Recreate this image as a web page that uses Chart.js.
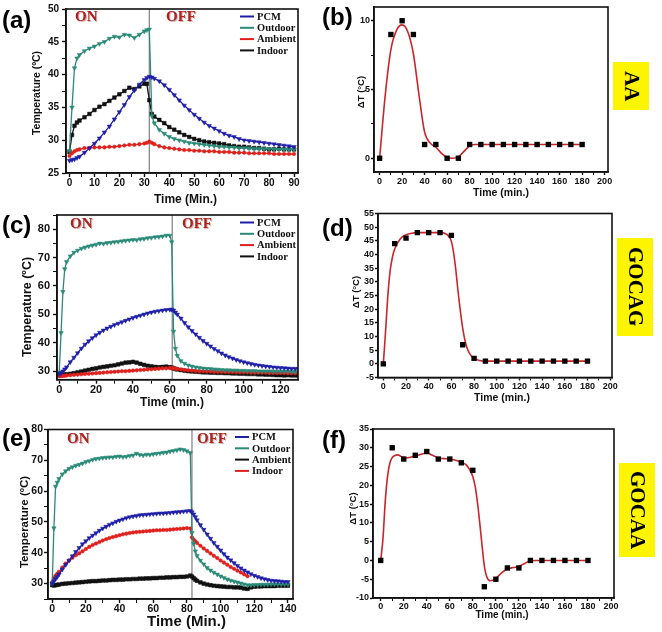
<!DOCTYPE html>
<html>
<head>
<meta charset="utf-8">
<script src="https://cdn.jsdelivr.net/npm/chart.js@4.4.1/dist/chart.umd.min.js"></script>
<style>
  body { margin: 0; background: #fff; }
  #wrap { position: relative; width: 662px; height: 632px; overflow: hidden; background: #fff; }
  canvas { position: absolute; }
  .tag { position: absolute; font: bold 24px "Liberation Sans", Arial, sans-serif; line-height: 1; color: #000; }
  .onoff { position: absolute; font: bold 15px "Liberation Serif", "Times New Roman", serif; line-height: 1; color: #ad211d; text-shadow: 1px 1px 0 #d8b0b0; }
  .sample { position: absolute; background: #fdf500; display: flex; align-items: center; justify-content: center; }
  .sample span { writing-mode: vertical-rl; font: bold 21px "Liberation Serif", "Times New Roman", serif; color: #000; line-height: 1; }
</style>
</head>
<body>
<div id="wrap">
  <canvas id="cA" width="310" height="210" style="left:0;top:0"></canvas>
  <canvas id="cB" width="285" height="210" style="left:335px;top:0"></canvas>
  <canvas id="cC" width="310" height="212" style="left:0;top:205px"></canvas>
  <canvas id="cD" width="285" height="210" style="left:335px;top:205px"></canvas>
  <canvas id="cE" width="305" height="212" style="left:0;top:420px"></canvas>
  <canvas id="cF" width="285" height="212" style="left:335px;top:420px"></canvas>

  <div class="tag" style="left:2px;top:8px">(a)</div>
  <div class="tag" style="left:322px;top:5px">(b)</div>
  <div class="tag" style="left:2px;top:213px">(c)</div>
  <div class="tag" style="left:322px;top:216px">(d)</div>
  <div class="tag" style="left:2px;top:426px">(e)</div>
  <div class="tag" style="left:322px;top:428px">(f)</div>

  <div class="onoff" style="left:75px;top:9px">ON</div>
  <div class="onoff" style="left:166px;top:9px">OFF</div>
  <div class="onoff" style="left:70px;top:216px">ON</div>
  <div class="onoff" style="left:182px;top:216px">OFF</div>
  <div class="onoff" style="left:67px;top:431px">ON</div>
  <div class="onoff" style="left:197px;top:431px">OFF</div>

  <div class="sample" style="left:613px;top:62px;width:36px;height:48px"><span>AA</span></div>
  <div class="sample" style="left:617px;top:238px;width:36px;height:98px"><span>GOCAG</span></div>
  <div class="sample" style="left:619px;top:463px;width:36px;height:94px"><span>GOCAA</span></div>
</div>

<script>
// ---------- panel (a) : AA, temperature vs time ----------
const timeA = [0,1,2,3,4,6,8,10,12,14,16,18,20,22,24,26,28,30,31,32,33,34,36,38,40,42,44,46,48,50,52,54,56,58,60,62,64,66,68,70,72,74,76,78,80,82,84,86,88,90];
const pcmA = [26.9,27.0,27.1,27.3,27.5,28.1,28.8,29.5,30.3,31.2,32.1,33.2,34.3,35.4,36.6,37.6,38.5,39.2,39.5,39.7,39.6,39.4,39.0,38.4,37.7,36.9,36.1,35.3,34.6,33.9,33.3,32.7,32.2,31.8,31.4,31.0,30.7,30.5,30.2,30.0,29.9,29.8,29.7,29.6,29.5,29.4,29.3,29.2,29.1,29.0];
const outdoorA = [28.4,35.0,41.0,42.5,43.0,43.6,44.0,44.3,44.7,45.0,45.5,45.8,45.7,46.1,46.0,45.6,46.1,46.6,46.8,46.9,33.7,32.6,31.6,31.0,30.5,30.2,30.0,29.8,29.6,29.5,29.4,29.3,29.2,29.1,29.0,29.0,28.9,28.9,28.8,28.8,28.8,28.7,28.7,28.7,28.7,28.6,28.6,28.6,28.6,28.6];
const ambientA = [27.6,28.0,28.3,28.5,28.6,28.8,28.8,28.9,28.9,28.9,29.0,29.0,29.1,29.2,29.3,29.3,29.4,29.5,29.6,29.8,29.6,29.4,29.1,28.9,28.8,28.7,28.6,28.5,28.5,28.4,28.4,28.3,28.3,28.3,28.2,28.2,28.2,28.1,28.1,28.1,28.0,28.0,28.0,28.0,28.0,27.9,27.9,27.9,27.9,27.9];
const indoorA = [28.2,30.8,32.2,32.7,33.0,33.5,34.0,34.6,35.1,35.5,36.0,36.5,37.0,37.5,38.0,37.8,38.2,38.6,38.6,36.1,34.0,33.6,33.1,32.6,32.0,31.6,31.2,30.8,30.5,30.2,30.0,29.8,29.7,29.6,29.5,29.4,29.2,29.1,29.0,29.0,28.9,28.8,28.8,28.7,28.6,28.6,28.7,28.6,28.6,28.6];
const switchA = 32;

// ---------- panel (c) : GOCAG ----------
const timeC = [0,1,2,3,4,6,8,10,12,14,16,18,20,22,24,26,28,30,32,34,36,38,40,42,44,46,48,50,52,54,56,58,60,61,62,63,64,66,68,70,72,74,76,78,80,82,84,86,88,90,92,94,96,98,100,102,104,106,108,110,112,114,116,118,120,122,124,126,128,130];
const pcmC = [29.0,29.4,30.0,30.7,31.4,33.2,34.8,36.4,38.0,39.4,40.6,41.7,42.7,43.6,44.4,45.1,45.7,46.3,46.8,47.3,47.8,48.3,48.8,49.2,49.6,50.0,50.4,50.7,51.0,51.2,51.4,51.6,51.7,51.7,51.4,50.7,50.0,48.6,47.0,45.5,44.2,43.0,41.8,40.7,39.7,38.8,37.9,37.1,36.3,35.6,35.0,34.5,34.0,33.6,33.2,32.9,32.6,32.3,32.1,31.9,31.7,31.6,31.4,31.3,31.2,31.1,31.0,30.9,30.9,30.8];
const outdoorC = [29.5,43.5,58.0,66.0,68.5,70.5,71.8,72.5,73.2,73.6,74.0,74.3,74.6,75.0,74.9,75.2,75.3,75.5,75.6,75.8,76.0,76.1,76.3,76.2,76.5,76.6,76.9,77.0,77.2,77.3,77.5,77.8,77.8,75.5,44.0,38.0,35.5,33.6,32.7,32.1,31.7,31.4,31.2,31.0,30.9,30.8,30.7,30.6,30.5,30.4,30.4,30.3,30.3,30.2,30.2,30.1,30.1,30.1,30.0,30.0,30.0,30.0,29.9,29.9,29.9,29.9,29.9,29.8,29.8,29.8];
const ambientC = [28.3,28.3,28.4,28.4,28.5,28.6,28.7,28.8,28.9,29.0,29.1,29.2,29.3,29.4,29.5,29.6,29.7,29.8,29.9,30.0,30.0,30.1,30.2,30.3,30.4,30.5,30.6,30.7,30.8,30.9,31.0,31.0,31.1,31.1,31.0,30.9,30.8,30.6,30.4,30.3,30.2,30.1,30.0,30.0,29.9,29.9,29.8,29.8,29.8,29.7,29.7,29.7,29.6,29.6,29.6,29.6,29.5,29.5,29.5,29.5,29.5,29.4,29.4,29.4,29.4,29.4,29.3,29.3,29.3,29.3];
const indoorC = [28.5,28.6,28.7,28.8,28.9,29.1,29.3,29.6,29.9,30.2,30.5,30.8,31.0,31.3,31.5,31.7,31.9,32.1,32.4,32.7,33.0,33.1,33.3,33.0,32.6,32.2,31.9,31.7,31.5,31.4,31.5,31.6,31.4,31.3,31.0,30.8,30.6,30.4,30.2,30.0,29.9,29.8,29.7,29.6,29.6,29.5,29.5,29.4,29.4,29.3,29.3,29.2,29.2,29.1,29.1,29.0,29.0,29.0,28.9,28.9,28.8,28.8,28.7,28.6,28.6,28.5,28.6,28.5,28.5,28.5];
const switchC = 61.3;

// ---------- panel (e) : GOCAA ----------
const timeE = [0,1,2,3,4,6,8,10,12,14,16,18,20,22,24,26,28,30,32,34,36,38,40,42,44,46,48,50,52,54,56,58,60,62,64,66,68,70,72,74,76,78,80,82,83,84,85,86,88,90,92,94,96,98,100,102,104,106,108,110,112,114,116,118,120,122,124,126,128,130,132,134,136,138,140];
const pcmE = [30.0,30.8,31.5,32.2,33.0,34.6,36.1,37.5,38.9,40.3,41.6,42.8,43.8,44.8,45.6,46.4,47.2,47.9,48.5,49.1,49.6,50.1,50.5,50.9,51.3,51.6,51.8,52.0,52.2,52.3,52.4,52.5,52.6,52.7,52.8,52.8,52.9,53.0,53.1,53.2,53.3,53.4,53.5,53.6,53.2,52.5,51.6,50.6,49.0,47.5,46.0,44.6,43.2,42.0,40.8,39.6,38.5,37.6,36.7,35.8,35.0,34.3,33.7,33.1,32.6,32.2,31.8,31.5,31.2,31.0,30.9,30.8,30.7,30.6,30.6];
const outdoorE = [30.0,48.0,61.5,62.8,64.0,65.5,66.5,67.3,67.8,68.3,68.6,69.0,69.5,69.8,70.2,70.5,70.6,70.8,70.9,71.0,71.0,71.2,71.3,71.1,71.2,71.5,71.6,72.2,71.8,71.6,71.9,71.8,72.0,72.2,72.3,72.5,72.6,72.9,73.1,73.3,73.6,73.4,73.0,72.4,46.5,43.0,40.5,39.0,37.5,36.3,35.1,34.3,33.6,33.0,32.4,31.9,31.4,31.0,30.7,30.4,30.1,29.8,29.5,29.5,29.6,29.6,29.7,29.7,29.7,29.8,29.8,29.8,29.8,29.8,29.8];
const ambientE = [29.5,29.4,29.5,29.6,29.7,29.9,30.0,30.1,30.2,30.3,30.4,30.5,30.6,30.7,30.8,30.8,30.9,31.0,31.0,31.1,31.2,31.2,31.3,31.3,31.4,31.4,31.5,31.5,31.6,31.6,31.7,31.7,31.8,31.8,31.9,31.9,32.0,32.0,32.1,32.1,32.2,32.2,32.3,32.6,32.3,31.8,31.3,30.9,30.4,30.0,29.7,29.5,29.3,29.2,29.1,29.0,28.9,28.9,28.8,28.8,28.7,28.4,28.3,28.8,29.0,29.1,29.1,29.2,29.2,29.2,29.2,29.3,29.3,29.3,29.3];
const indoorE = [30.5,31.8,32.6,33.2,33.8,35.2,36.5,37.5,38.4,39.2,39.8,40.5,41.2,41.9,42.5,43.0,43.5,44.0,44.4,44.8,45.1,45.4,45.7,46.0,46.2,46.4,46.6,46.7,46.8,46.9,47.0,47.1,47.2,47.3,47.3,47.4,47.4,47.5,47.6,47.7,47.8,47.9,48.0,47.9,45.0,44.3,43.7,43.2,42.3,41.4,40.6,39.8,39.0,38.3,37.5,36.8,36.1,35.4,34.8,34.2,33.6,33.0,32.4,null,null,null,null,null,null,null,null,null,null,null,null];
const switchE = 83;

// ---------- right column : delta T ----------
const timeDelta = [0,10,20,30,40,50,60,70,80,90,100,110,120,130,140,150,160,170,180];
const deltaAA = [0,9,10,9,1,1,0,0,1,1,1,1,1,1,1,1,1,1,1];
const deltaGOCAG = [0,44,46,48,48,48,47,7,2,1,1,1,1,1,1,1,1,1,1];
const deltaGOCAA = [0,30,27,28,29,27,27,26,24,-7,-5,-2,-2,0,0,0,0,0,0];

const fitTimeAA = [0,5,10,15,20,25,30,35,40,45,50,55,60,65,70,75,80,85,90,100,120,140,160,180];
const fitAA = [0,4.6,7.9,9.3,9.7,9.2,7.6,4.6,1.9,1.1,0.8,0.35,0.05,0,0.1,0.5,0.9,1.0,1.0,1.0,1.0,1.0,1.0,1.0];
const fitTimeGOCAG = [0,2,4,6,8,10,15,20,25,30,40,50,55,58,60,62,64,66,68,70,72,74,76,78,80,85,90,100,120,140,160,180];
const fitGOCAG = [0,12,25,34,39,42,45.8,47.2,47.8,48,48,48,47.6,46.5,44.8,40.5,34,26,19,13,8.5,5.6,3.8,2.7,2.0,1.2,1.0,1.0,1.0,1.0,1.0,1.0];
const fitTimeGOCAA = [0,2,4,6,8,10,12,15,18,21,25,30,35,40,45,50,55,60,65,70,74,77,80,82,84,86,88,90,92,95,98,100,105,110,115,120,125,130,135,140,180];
const fitGOCAA = [0,6,16,22.5,26,27.4,27.9,28.1,27.6,27.3,27.4,27.8,28.3,28.6,28.0,27.3,27.1,27.0,26.7,26.2,25.5,24.3,22.3,19.8,15.5,10,4,-1.5,-4.3,-5.4,-5.2,-4.8,-3.3,-2.3,-1.9,-1.6,-0.8,-0.1,0,0,0];

// colours / fonts
const BLUE = '#1f1fa8', TEAL = '#2a8a78', RED = '#e0201c', BLACK = '#111111';
const SANS = '"Liberation Sans", Arial, sans-serif';
const SERIF = '"Liberation Serif", "Times New Roman", serif';

const pts = (xs, ys) => xs.map((x, i) => ({ x: x, y: ys[i] }));

function series(label, color, shape, xs, ys) {
  return {
    label: label, inLegend: true,
    data: pts(xs, ys),
    borderColor: color, backgroundColor: color,
    borderWidth: 1.3, tension: 0, spanGaps: false,
    pointStyle: shape === 'tri' ? 'triangle' : (shape === 'sq' ? 'rect' : 'circle'),
    rotation: shape === 'tri' ? 180 : 0,
    pointRadius: shape === 'tri' ? 2.6 : (shape === 'sq' ? 2.6 : 1.8),
    pointBorderWidth: 0.5
  };
}

function switchLine(t, yMin, yMax) {
  return { data: [{ x: t, y: yMin }, { x: t, y: yMax }], borderColor: '#8a8a8a', borderWidth: 1.3, pointRadius: 0 };
}

function squares(ys) {
  return { data: pts(timeDelta, ys), showLine: false, pointStyle: 'rect', pointRadius: 3.8,
           backgroundColor: '#000', borderColor: '#000', borderWidth: 0 };
}

function fitLine(xs, ys) {
  return { data: pts(xs, ys), borderColor: '#c8262a', borderWidth: 1.6, pointRadius: 0,
           cubicInterpolationMode: 'monotone' };
}

// box round the plot + legend drawn inside the plot area
const framePlugin = {
  id: 'frame',
  afterDatasetsDraw(chart) {
    const a = chart.chartArea, c = chart.ctx;
    c.save();
    c.strokeStyle = '#111';
    c.lineWidth = 1.6;
    c.strokeRect(a.left, a.top, a.right - a.left, a.bottom - a.top);
    const items = chart.data.datasets.filter(d => d.inLegend);
    c.font = 'bold 10.5px ' + SERIF;
    c.textBaseline = 'middle';
    items.forEach((d, i) => {
      const x0 = a.right - 58, y = a.top + 7.5 + i * 11.3;
      c.strokeStyle = d.borderColor;
      c.lineWidth = 2;
      c.beginPath(); c.moveTo(x0, y); c.lineTo(x0 + 14, y); c.stroke();
      c.fillStyle = '#111';
      c.fillText(d.label, x0 + 17, y + 0.5);
    });
    c.restore();
  }
};

// axis titles, placed where the figure has them (not always centred on the plot)
function titlesPlugin(t) {
  return {
    id: 'titles',
    afterDraw(chart) {
      const c = chart.ctx;
      c.save();
      c.fillStyle = '#111';
      c.textAlign = 'center';
      c.textBaseline = 'middle';
      c.font = 'bold ' + t.xSize + 'px ' + SANS;
      c.fillText(t.x, t.xAt[0], t.xAt[1]);
      c.translate(t.yAt[0], t.yAt[1]);
      c.rotate(-Math.PI / 2);
      c.font = 'bold ' + t.ySize + 'px ' + SANS;
      c.fillText(t.y, 0, 0);
      c.restore();
    }
  };
}

function isMajor(v, major) {
  const r = v / major;
  return Math.abs(r - Math.round(r)) < 1e-6;
}

function axis(s) {
  return {
    type: 'linear', min: s.min, max: s.max,
    afterFit: s.fit,
    border: { display: true, color: '#111', width: 1.5 },
    grid: { drawOnChartArea: false, drawTicks: true, tickLength: s.tl || 4, tickColor: '#111',
            tickWidth: ctx => (ctx.tick && isMajor(ctx.tick.value, s.major) ? 1.4 : 1) },
    ticks: { stepSize: s.step, includeBounds: false, autoSkip: false, maxRotation: 0, color: '#111',
             padding: s.pad, font: { family: SANS, weight: 'bold', size: s.fs },
             callback: v => (isMajor(v, s.major) ? v : '') },
    title: { display: false }
  };
}

function panel(id, p) {
  return new Chart(document.getElementById(id), {
    type: 'line',
    data: { datasets: p.datasets },
    options: {
      responsive: false, animation: false, devicePixelRatio: 1,
      layout: { padding: { left: 0, top: p.top, right: p.right, bottom: 0 } },
      plugins: { legend: { display: false }, tooltip: { enabled: false } },
      scales: { x: axis(p.x), y: axis(p.y) }
    },
    plugins: [framePlugin, titlesPlugin(p.titles)]
  });
}

const TEMP = 'Temperature (\u00baC)';
const DT = '\u0394T (\u00b0C)';

// (a)
panel('cA', {
  top: 9, right: 12,
  datasets: [
    series('PCM', BLUE, 'tri', timeA, pcmA),
    series('Outdoor', TEAL, 'tri', timeA, outdoorA),
    series('Ambient', RED, 'dot', timeA, ambientA),
    series('Indoor', BLACK, 'sq', timeA, indoorA),
    switchLine(switchA, 25, 50)
  ],
  x: { min: -1.4, max: 91.6, step: 5, major: 10, fs: 10, pad: 0, fit: s => { s.height = 37; } },
  y: { min: 25, max: 50, step: 2.5, major: 5, fs: 10, pad: 3, fit: s => { s.width = 66; } },
  titles: { x: 'Time (Min.)', xSize: 12, xAt: [185.5, 199.5], y: TEMP, ySize: 10.5, yAt: [37.5, 93] }
});

// (b)
panel('cB', {
  top: 7, right: 12,
  datasets: [squares(deltaAA), fitLine(fitTimeAA, fitAA)],
  x: { min: -5, max: 203, step: 10, major: 20, fs: 9, pad: 1.5, tl: 3, fit: s => { s.height = 38; } },
  y: { min: -1, max: 11, step: 2.5, major: 5, fs: 9, pad: 1, tl: 3, fit: s => { s.width = 39; } },
  titles: { x: 'Time (min.)', xSize: 10.5, xAt: [166, 193], y: DT, ySize: 9.5, yAt: [26, 92] }
});

// (c)
panel('cC', {
  top: 10, right: 12,
  datasets: [
    series('PCM', BLUE, 'tri', timeC, pcmC),
    series('Outdoor', TEAL, 'tri', timeC, outdoorC),
    series('Ambient', RED, 'dot', timeC, ambientC),
    series('Indoor', BLACK, 'sq', timeC, indoorC),
    switchLine(switchC, 27, 85)
  ],
  x: { min: -1.2, max: 129.5, step: 10, major: 20, fs: 11, pad: 0, fit: s => { s.height = 37.3; } },
  y: { min: 27, max: 85, step: 5, major: 10, fs: 11, pad: 3, fit: s => { s.width = 57; } },
  titles: { x: 'Time (min.)', xSize: 12, xAt: [172, 197.5], y: TEMP, ySize: 12.5, yAt: [27.5, 102] }
});

// (d)
panel('cD', {
  top: 8.5, right: 8,
  datasets: [squares(deltaGOCAG), fitLine(fitTimeGOCAG, fitGOCAG)],
  x: { min: -4.7, max: 201.6, step: 10, major: 20, fs: 9, pad: 1, tl: 3, fit: s => { s.height = 37.5; } },
  y: { min: -5, max: 55, step: 5, major: 5, fs: 9, pad: 1, tl: 3, fit: s => { s.width = 43; } },
  titles: { x: 'Time (min.)', xSize: 10.5, xAt: [167, 193], y: DT, ySize: 9.5, yAt: [21, 87] }
});

// (e)
panel('cE', {
  top: 9.5, right: 12,
  datasets: [
    series('PCM', BLUE, 'tri', timeE, pcmE),
    series('Outdoor', TEAL, 'tri', timeE, outdoorE),
    series('Ambient', BLACK, 'sq', timeE, ambientE),
    series('Indoor', RED, 'dot', timeE, indoorE),
    switchLine(switchE, 25, 80)
  ],
  x: { min: -2.5, max: 143, step: 10, major: 20, fs: 10.5, pad: 0, fit: s => { s.height = 33; } },
  y: { min: 25, max: 80, step: 5, major: 10, fs: 10.5, pad: 1, fit: s => { s.width = 48; } },
  titles: { x: 'Time (Min.)', xSize: 15, xAt: [186.5, 202], y: TEMP, ySize: 11.5, yAt: [25, 102] }
});

// (f)
panel('cF', {
  top: 9, right: 6,
  datasets: [squares(deltaGOCAA), fitLine(fitTimeGOCAA, fitGOCAA)],
  x: { min: -6.7, max: 202.6, step: 10, major: 20, fs: 9, pad: 0, tl: 3, fit: s => { s.height = 34; } },
  y: { min: -10, max: 35, step: 5, major: 5, fs: 9, pad: 1, tl: 3, fit: s => { s.width = 38; } },
  titles: { x: 'Time (min.)', xSize: 10, xAt: [167, 195.5], y: DT, ySize: 9.5, yAt: [18, 88.5] }
});
</script>
</body>
</html>
